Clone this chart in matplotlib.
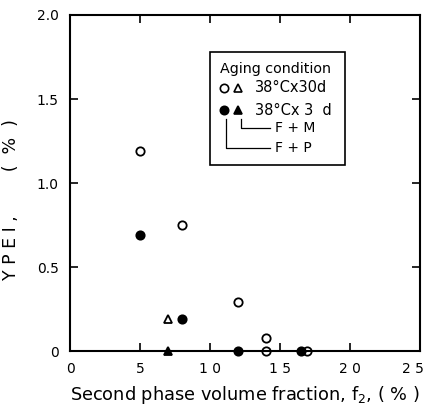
import matplotlib
matplotlib.use('Agg')
import matplotlib.pyplot as plt
import matplotlib.transforms as mtransforms
from matplotlib.patches import Rectangle

# YPEI vs second phase volume fraction
open_circ_x = [5, 8, 12, 14, 14, 16.9]      # 38C x 30d, F+P
open_circ_y = [1.19, 0.75, 0.29, 0.08, 0.0, 0.0]
fill_circ_x = [5, 8, 12, 16.5]               # 38C x 3d, F+P
fill_circ_y = [0.69, 0.19, 0.0, 0.0]
open_tri_x = [7]                             # 38C x 30d, F+M
open_tri_y = [0.19]
fill_tri_x = [7]                             # 38C x 3d, F+M
fill_tri_y = [0.0]

xticks = [0, 5, 10, 15, 20, 25]
xticklabels = ['0', '5', '1 0', '1 5', '2 0', '2 5']
yticks = [0, 0.5, 1.0, 1.5, 2.0]
yticklabels = ['0', '0.5', '1.0', '1.5', '2.0']

plt.rcParams['font.family'] = ['DejaVu Sans']

fig = plt.figure(figsize=(4.28, 4.12), dpi=100)
ax = fig.add_axes([0.1636, 0.148, 0.8178, 0.8156])

ms = 6
kw = dict(linestyle='none', color='black', markersize=ms, markeredgewidth=1.3, clip_on=False, zorder=3)
ax.plot(open_circ_x, open_circ_y, marker='o', markerfacecolor='none', **kw)
ax.plot(fill_circ_x, fill_circ_y, marker='o', markerfacecolor='black', **kw)
ax.plot(open_tri_x, open_tri_y, marker='^', markerfacecolor='none', **kw)
ax.plot(fill_tri_x, fill_tri_y, marker='^', markerfacecolor='black', **kw)

ax.set_xlim(0, 25)
ax.set_ylim(0, 2.0)
ax.set_xticks(xticks)
ax.set_xticklabels(xticklabels)
ax.set_yticks(yticks)
ax.set_yticklabels(yticklabels)
ax.tick_params(direction='in', length=6, width=1.2, top=True, right=True,
               labelsize=10, pad=8)
for s in ax.spines.values():
    s.set_linewidth(1.5)

# keep the last x tick label inside the figure
last = ax.get_xticklabels()[-1]
last.set_transform(last.get_transform() +
                   mtransforms.ScaledTranslation(-5 / 72, 0, fig.dpi_scale_trans))

ax.set_xlabel('Second phase volume fraction, f$_2$, ( % )', fontsize=12.8, labelpad=6)
ax.set_ylabel('Y P E I ,        (  %  )', fontsize=12.5)
ax.yaxis.set_label_coords(-0.143, 0.45)

# legend box drawn by hand
tr = ax.transAxes
ax.add_patch(Rectangle((0.40, 0.554), 0.386, 0.336, transform=tr, fill=False,
                       edgecolor='black', linewidth=1.2, zorder=4))
ax.text(0.429, 0.839, 'Aging condition', transform=tr, fontsize=10.3, va='center')
lk = dict(transform=tr, linestyle='none', color='black', markersize=6,
          markeredgewidth=1.2, clip_on=False, zorder=5)
ax.plot([0.44], [0.783], marker='o', markerfacecolor='none', **lk)
ax.plot([0.48], [0.783], marker='^', markerfacecolor='none', **lk)
ax.plot([0.44], [0.717], marker='o', markerfacecolor='black', **lk)
ax.plot([0.48], [0.717], marker='^', markerfacecolor='black', **lk)
ax.text(0.529, 0.783, '38°Cx30d', transform=tr, fontsize=10.5, va='center')
ax.text(0.529, 0.717, '38°Cx 3  d', transform=tr, fontsize=10.5, va='center')
ax.plot([0.489, 0.489, 0.571], [0.69, 0.664, 0.664], transform=tr, color='black', lw=0.9)
ax.plot([0.446, 0.446, 0.571], [0.69, 0.604, 0.604], transform=tr, color='black', lw=0.9)
ax.text(0.586, 0.664, 'F + M', transform=tr, fontsize=10, va='center')
ax.text(0.586, 0.604, 'F + P', transform=tr, fontsize=10, va='center')

fig.savefig('out.png', dpi=100)
